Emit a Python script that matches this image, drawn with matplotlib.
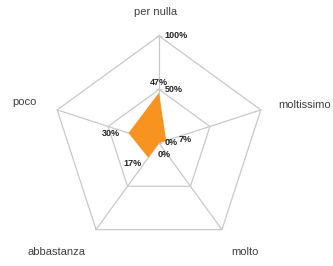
import numpy as np
import matplotlib
matplotlib.use("Agg")
import matplotlib.pyplot as plt

# data
categorie = ["per nulla", "moltissimo", "molto", "abbastanza", "poco"]
valori = [47, 7, 0, 17, 30]
anelli = [0, 50, 100]
etichette_anelli = ["0%", "50%", "100%"]

plt.rcParams["font.family"] = ["Liberation Sans", "DejaVu Sans"]

n = len(categorie)
theta = np.linspace(0, 2 * np.pi, n, endpoint=False)
theta_c = np.append(theta, theta[0])

fig = plt.figure(figsize=(3.33, 2.66), dpi=100)
ax = fig.add_axes([0.156, 0.060, 0.643, 0.805], projection="polar")
ax.set_theta_offset(np.pi / 2)
ax.set_theta_direction(-1)
ax.set_ylim(0, 100)
ax.grid(False)
ax.set_xticks([])
ax.set_yticks([])
ax.spines["polar"].set_visible(False)
ax.patch.set_alpha(0)

grigio = "#c9c9c9"
# pentagon rings
for r in anelli[1:]:
    ax.plot(theta_c, [r] * (n + 1), color=grigio, lw=0.9, zorder=1, clip_on=False)
# spokes
for t in theta:
    ax.plot([t, t], [0, 100], color=grigio, lw=0.9, zorder=1, clip_on=False)
# little tick marks on the value axis
ax.plot([0] * len(anelli), anelli, ls="none", marker="_", ms=5, mew=0.9,
        color=grigio, zorder=2, clip_on=False)

# series
v = valori + [valori[0]]
ax.fill(theta_c, v, color="#f7931e", lw=0, zorder=3)

# ring labels along the top axis
for r, lab in zip(anelli, etichette_anelli):
    ax.annotate(lab, (0, r), xytext=(4, 0), textcoords="offset points",
                ha="left", va="center", fontsize=6.5, fontweight="bold",
                color="#262626", zorder=5, annotation_clip=False)

# data labels
offs = [(0, 7), (9, 1), (-1, -8), (-5, -4), (-6, 0)]
has = ["center", "left", "left", "right", "right"]
for t, val, o, h in zip(theta, valori, offs, has):
    ax.annotate(f"{val}%", (t, val), xytext=o, textcoords="offset points",
                ha=h, va="center", fontsize=6.5, fontweight="bold",
                color="#262626", zorder=6, annotation_clip=False)

# category labels
pos = [(np.deg2rad(-1.5), 122), (np.deg2rad(75.4), 141), (np.deg2rad(141.7), 130),
       (np.deg2rad(223.4), 140), (np.deg2rad(287), 131)]
for (t, r), lab in zip(pos, categorie):
    ax.text(t, r, lab, ha="center", va="center", fontsize=8,
            color="#404040", clip_on=False)

fig.savefig("out.png", dpi=100, facecolor="white")
